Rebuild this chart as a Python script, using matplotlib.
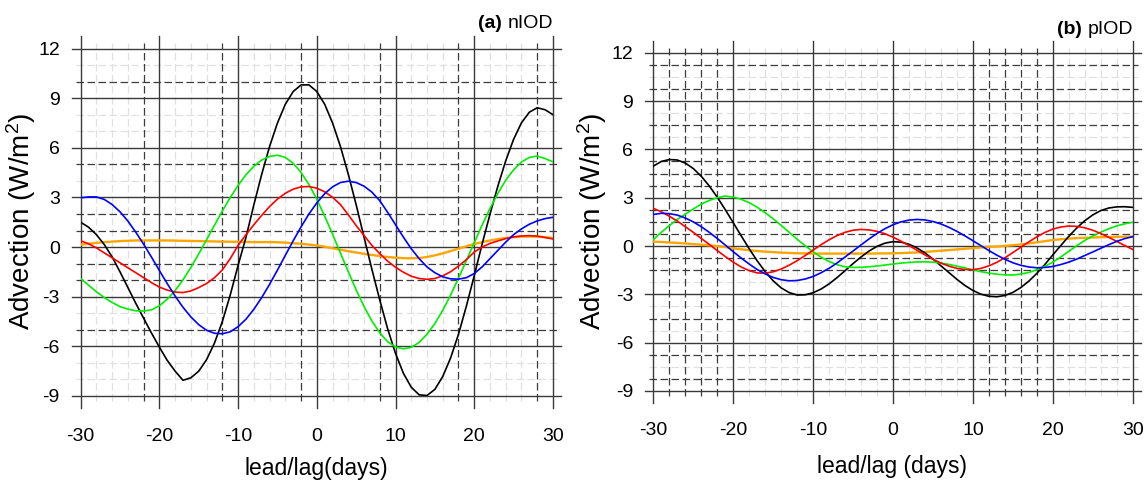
import numpy as np
import matplotlib
matplotlib.use('Agg')
import matplotlib.pyplot as plt
from matplotlib import font_manager

names = {f.name for f in font_manager.fontManager.ttflist}
NARROW = 'Liberation Sans Narrow' if 'Liberation Sans Narrow' in names else 'Liberation Sans'
REG = 'Liberation Sans'
plt.rcParams['mathtext.fontset'] = 'custom'
plt.rcParams['mathtext.rm'] = REG
plt.rcParams['mathtext.it'] = REG + ':italic'
plt.rcParams['axes.unicode_minus'] = False

# ---------------- data ----------------
days = list(range(-30, 31))

a_black = [1.5, 1.2, 0.75, 0.15, -0.6, -1.5, -2.45, -3.4, -4.3, -5.2, -6.05, -6.85, -7.5, -8.05, -7.9,
           -7.5, -6.8, -5.8, -4.5, -2.9, -1.1, 0.59, 2.55, 4.4, 6.08, 7.5, 8.63, 9.4, 9.8, 9.8,
           9.4, 8.63, 7.5, 6.08, 4.4, 2.55, 0.6, -1.35, -3.2, -4.94, -6.43, -7.63, -8.47, -8.93, -8.97,
           -8.6, -7.82, -6.7, -5.27, -3.57, -1.73, 0.18, 1.98, 3.68, 5.21, 6.51, 7.51, 8.15, 8.42, 8.3, 8.0]
a_green = [-1.9, -2.3, -2.7, -3.05, -3.35, -3.6, -3.75, -3.85, -3.87, -3.79, -3.55, -3.15, -2.63, -1.98, -1.23,
           -0.41, 0.45, 1.32, 2.18, 2.99, 3.73, 4.37, 4.88, 5.26, 5.48, 5.55, 5.42, 5.06, 4.51, 3.78,
           2.89, 1.87, 0.78, -0.36, -1.49, -2.59, -3.59, -4.47, -5.18, -5.72, -6.04, -6.15, -6.06, -5.76, -5.27,
           -4.62, -3.82, -2.9, -1.88, -0.81, 0.26, 1.33, 2.33, 3.24, 4.04, 4.67, 5.14, 5.42, 5.5, 5.35, 5.15]
a_red = [0.38, 0.2, -0.05, -0.35, -0.65, -0.95, -1.25, -1.55, -1.85, -2.15, -2.42, -2.6, -2.72, -2.75, -2.65,
         -2.45, -2.2, -1.85, -1.38, -0.7, 0.1, 0.75, 1.35, 1.92, 2.45, 2.9, 3.25, 3.5, 3.64, 3.66,
         3.56, 3.34, 3.01, 2.57, 1.95, 1.3, 0.7, 0.1, -0.4, -0.85, -1.22, -1.52, -1.76, -1.9, -1.95,
         -1.9, -1.74, -1.49, -1.15, -0.76, -0.3, 0.0, 0.22, 0.37, 0.51, 0.61, 0.67, 0.69, 0.66, 0.58, 0.49]
a_blue = [2.98, 3.03, 3.03, 2.88, 2.57, 2.13, 1.57, 0.9, 0.17, -0.61, -1.42, -2.21, -2.96, -3.64, -4.22,
          -4.69, -5.03, -5.21, -5.24, -5.12, -4.81, -4.36, -3.76, -3.05, -2.25, -1.39, -0.5, 0.38, 1.22, 2.0,
          2.67, 3.23, 3.64, 3.9, 3.98, 3.9, 3.68, 3.32, 2.8, 2.1, 1.35, 0.6, -0.1, -0.7, -1.2,
          -1.55, -1.8, -1.92, -1.94, -1.85, -1.6, -1.2, -0.7, -0.2, 0.3, 0.75, 1.1, 1.38, 1.58, 1.72, 1.8]
a_orange = [0.15, 0.2, 0.25, 0.3, 0.33, 0.36, 0.38, 0.4, 0.4, 0.4, 0.4, 0.4, 0.39, 0.38, 0.37,
            0.36, 0.35, 0.34, 0.33, 0.32, 0.32, 0.31, 0.3, 0.3, 0.3, 0.29, 0.27, 0.23, 0.2, 0.15,
            0.1, 0.02, -0.07, -0.16, -0.25, -0.33, -0.41, -0.48, -0.54, -0.6, -0.64, -0.67, -0.68, -0.66, -0.6,
            -0.5, -0.38, -0.24, -0.1, 0.05, 0.18, 0.3, 0.4, 0.48, 0.55, 0.6, 0.63, 0.64, 0.63, 0.6, 0.55]

b_black = [4.96, 5.25, 5.37, 5.34, 5.15, 4.81, 4.33, 3.73, 3.03, 2.26, 1.45, 0.63, -0.17, -0.92, -1.59,
           -2.16, -2.6, -2.89, -3.04, -3.03, -2.9, -2.67, -2.35, -1.96, -1.53, -1.09, -0.68, -0.31, -0.02, 0.18,
           0.27, 0.24, 0.11, -0.12, -0.43, -0.81, -1.23, -1.65, -2.07, -2.45, -2.76, -2.99, -3.12, -3.15, -3.07,
           -2.88, -2.58, -2.18, -1.7, -1.15, -0.55, 0.03, 0.6, 1.12, 1.57, 1.93, 2.2, 2.36, 2.43, 2.44, 2.4]
b_green = [0.41, 0.85, 1.27, 1.65, 1.98, 2.3, 2.6, 2.83, 3.0, 3.1, 3.04, 2.9, 2.69, 2.41, 2.07,
           1.69, 1.28, 0.85, 0.42, 0.02, -0.36, -0.69, -0.96, -1.16, -1.29, -1.33, -1.32, -1.29, -1.24, -1.18,
           -1.12, -1.06, -1.02, -0.99, -0.98, -1.0, -1.06, -1.14, -1.25, -1.36, -1.48, -1.59, -1.68, -1.75, -1.79,
           -1.8, -1.74, -1.64, -1.47, -1.26, -1.0, -0.68, -0.33, 0.02, 0.35, 0.62, 0.86, 1.07, 1.25, 1.38, 1.47]
b_red = [2.34, 2.12, 1.85, 1.55, 1.2, 0.85, 0.47, 0.1, -0.28, -0.65, -1.0, -1.3, -1.53, -1.67, -1.69,
         -1.6, -1.43, -1.19, -0.91, -0.59, -0.25, 0.08, 0.39, 0.65, 0.85, 0.98, 1.03, 1.0, 0.91, 0.76,
         0.55, 0.3, 0.03, -0.26, -0.55, -0.82, -1.06, -1.25, -1.39, -1.46, -1.47, -1.39, -1.23, -1.01, -0.73,
         -0.41, -0.07, 0.26, 0.57, 0.84, 1.05, 1.18, 1.24, 1.22, 1.13, 0.98, 0.78, 0.54, 0.29, 0.03, -0.21]
b_blue = [1.96, 2.03, 2.01, 1.92, 1.74, 1.5, 1.2, 0.85, 0.47, 0.06, -0.35, -0.75, -1.12, -1.46, -1.73,
          -1.95, -2.09, -2.16, -2.14, -2.05, -1.89, -1.66, -1.38, -1.05, -0.68, -0.31, 0.07, 0.44, 0.78, 1.08,
          1.32, 1.5, 1.61, 1.65, 1.62, 1.52, 1.37, 1.16, 0.91, 0.63, 0.33, 0.02, -0.28, -0.57, -0.82,
          -1.04, -1.2, -1.3, -1.35, -1.33, -1.27, -1.15, -1.0, -0.81, -0.59, -0.37, -0.14, 0.08, 0.29, 0.46, 0.58]
b_orange = [0.27, 0.25, 0.22, 0.19, 0.16, 0.12, 0.08, 0.04, 0.0, -0.07, -0.14, -0.2, -0.26, -0.31, -0.35,
            -0.38, -0.41, -0.43, -0.45, -0.46, -0.47, -0.47, -0.47, -0.47, -0.47, -0.47, -0.47, -0.47, -0.46, -0.46,
            -0.45, -0.44, -0.42, -0.4, -0.37, -0.33, -0.29, -0.25, -0.21, -0.17, -0.13, -0.09, -0.06, -0.03, 0.01,
            0.05, 0.1, 0.16, 0.23, 0.3, 0.37, 0.42, 0.46, 0.49, 0.51, 0.53, 0.55, 0.56, 0.57, 0.58, 0.59]

x_ticks = [-30, -20, -10, 0, 10, 20, 30]
y_ticks = [-9, -6, -3, 0, 3, 6, 9, 12]

# grid levels
a_dark_y = [10, 5, 2, 1, -1, -2, -5]
a_light_y = [11, 8, 7, 4, -4, -7, -8]
a_dark_x = [-22, -12, -2, 8, 18, 28]
a_light_x = [-28, -26, -24, -18, -16, -14, -8, -6, -4, 2, 4, 6, 12, 14, 16, 22, 24, 26]
b_dark_y = [11.25, 9.75, 7.5, 5.25, 4.5, 3.75, 2.25, 1.5, 0.75, -0.75, -1.5, -4.5, -6.75, -8.25]
b_light_y = [10.5, 8.25, 6.75, -2.25, -3.75, -5.25, -7.5]
b_dark_x = [-28, -26, -24, -22, 12, 14, 16, 18]
b_light_x = [-18, -16, -14, -12, -8, -6, -4, -2, 2, 4, 6, 8, 22, 24, 26, 28]

# ---------------- figure ----------------
fig = plt.figure(figsize=(11.46, 4.86), dpi=100)
axA = fig.add_axes([0.0704, 0.1852, 0.4121, 0.715])
axB = fig.add_axes([0.5701, 0.1955, 0.4183, 0.696])

DASH = (0, (6, 2.8))


def draw_grid(ax, dark_x, dark_y, light_x, light_y):
    ex, ey = 0.018, 0.035
    for v in light_y:
        ax.axhline(v, xmin=-0.01, xmax=1.01, color='#e0e0e0', lw=0.9, ls=DASH, clip_on=False, zorder=1)
    for v in light_x:
        ax.axvline(v, ymin=-0.015, ymax=1.015, color='#e0e0e0', lw=0.9, ls=DASH, clip_on=False, zorder=1)
    for v in dark_y:
        ax.axhline(v, xmin=-0.01, xmax=1.01, color='#3c3c3c', lw=0.9, ls=DASH, clip_on=False, zorder=2)
    for v in dark_x:
        ax.axvline(v, ymin=-0.015, ymax=1.015, color='#3c3c3c', lw=0.9, ls=DASH, clip_on=False, zorder=2)
    for v in y_ticks:
        ax.axhline(v, xmin=-ex, xmax=1 + ex, color='#3a3a3a', lw=1.0, clip_on=False, zorder=3)
    for v in x_ticks:
        ax.axvline(v, ymin=-ey, ymax=1 + ey, color='#3a3a3a', lw=1.0, clip_on=False, zorder=3)


def setup(ax, xpad, ypad):
    ax.set_xlim(-30, 30)
    ax.set_ylim(-9, 12)
    for s in ax.spines.values():
        s.set_visible(False)
    ax.set_xticks(x_ticks)
    ax.set_yticks(y_ticks)
    ax.tick_params(axis='x', length=0, pad=xpad, labelsize=14)
    ax.tick_params(axis='y', length=0, pad=ypad, labelsize=14)
    for lab in ax.get_xticklabels() + ax.get_yticklabels():
        lab.set_family(NARROW)


def curves(ax, black, green, red, blue, orange):
    ax.plot(days, black, color='black', lw=1.2, zorder=5)
    ax.plot(days, green, color='#00ee00', lw=1.2, zorder=5)
    ax.plot(days, red, color='#ff0000', lw=1.2, zorder=5)
    ax.plot(days, blue, color='#0000ff', lw=1.2, zorder=5)
    ax.plot(days, orange, color='#ffa500', lw=1.7, zorder=4)


draw_grid(axA, a_dark_x, a_dark_y, a_light_x, a_light_y)
draw_grid(axB, b_dark_x, b_dark_y, b_light_x, b_light_y)
setup(axA, 23, 15)
setup(axB, 22, 14.5)
curves(axA, a_black, a_green, a_red, a_blue, a_orange)
curves(axB, b_black, b_green, b_red, b_blue, b_orange)

W, H = 1146.0, 486.0
fig.text(21.5 / W, 1 - 221.5 / H, 'Advection (W/m$^2$)', rotation=90, ha='center', va='center',
         fontsize=20, family=REG)
fig.text(592 / W, 1 - 221.5 / H, 'Advection (W/m$^2$)', rotation=90, ha='center', va='center',
         fontsize=20, family=REG)
fig.text(316 / W, 1 - 468 / H, 'lead/lag(days)', ha='center', va='center', fontsize=16.5, family=NARROW)
fig.text(892 / W, 1 - 466 / H, 'lead/lag (days)', ha='center', va='center', fontsize=16.5, family=NARROW)

tA = fig.text(553 / W, 1 - 24 / H, 'nIOD', ha='right', va='center', fontsize=14, family=NARROW)
axA.annotate('(a) ', xy=(0, 0.5), xycoords=tA, ha='right', va='center', fontsize=14,
             fontweight='bold', family=NARROW, annotation_clip=False)
tB = fig.text(1133 / W, 1 - 29 / H, 'pIOD', ha='right', va='center', fontsize=14, family=NARROW)
axB.annotate('(b) ', xy=(0, 0.5), xycoords=tB, ha='right', va='center', fontsize=14,
             fontweight='bold', family=NARROW, annotation_clip=False)

fig.savefig('out.png', dpi=100)
